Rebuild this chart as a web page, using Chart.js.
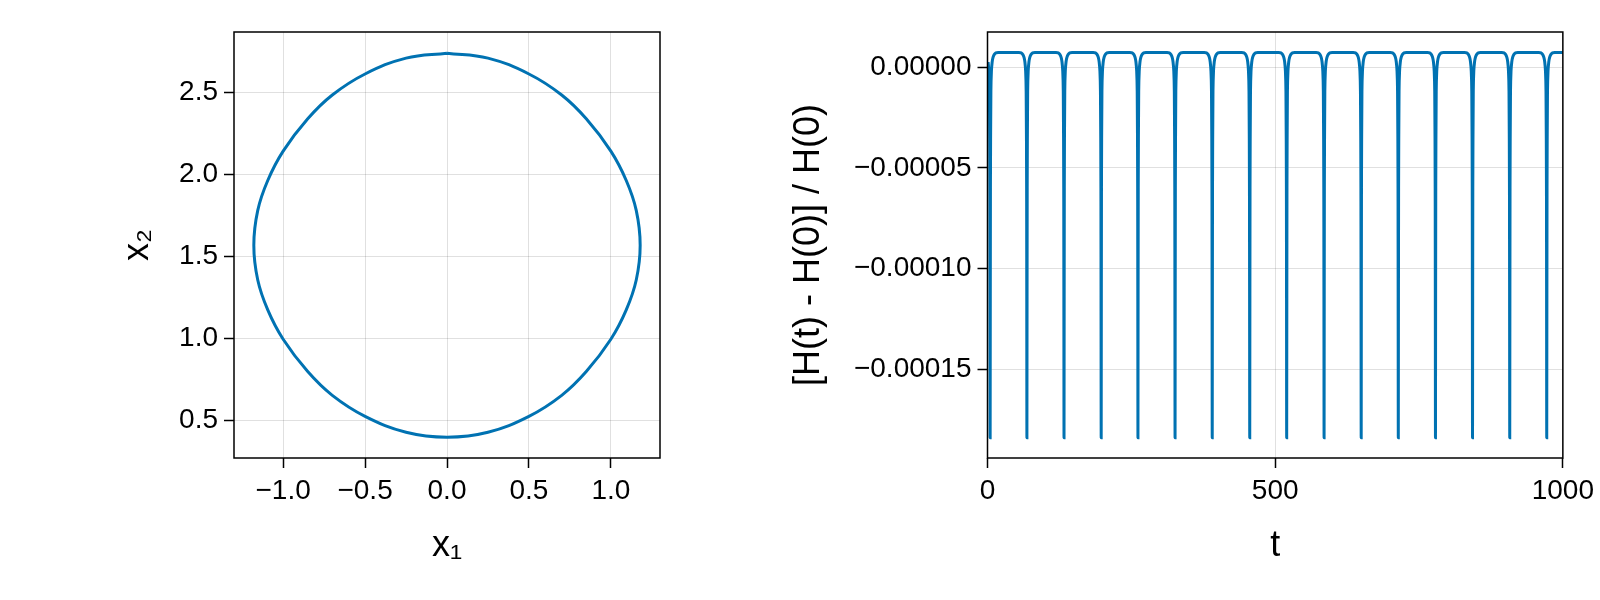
<!doctype html>
<html lang="en">
<head>
  <meta charset="utf-8">
  <title>Phase portrait and energy error</title>
  <script src="https://cdn.jsdelivr.net/npm/chart.js"></script>
  <style>
    body { margin: 0; background: #fff; font-family: "Liberation Sans", Arial, sans-serif; }
    #wrap { position: relative; width: 1600px; height: 600px; }
    .box { position: absolute; top: 0; height: 600px; }
  </style>
</head>
<body>
  <div id="wrap">
    <div class="box" style="left:0;width:700px"><canvas id="phase"></canvas></div>
    <div class="box" style="left:700px;width:900px"><canvas id="energy"></canvas></div>
  </div>

  <script>
    // left panel: orbit in (x1, x2), clockwise from the top
    const orbitX1 = [0, 0.25, 0.5, 0.70, 0.85, 1.0, 1.094, 1.155, 1.179,
                     1.155, 1.094, 1.0, 0.85, 0.70, 0.5, 0.25, 0,
                     -0.25, -0.5, -0.70, -0.85, -1.0, -1.094, -1.155, -1.179,
                     -1.155, -1.094, -1.0, -0.85, -0.70, -0.5, -0.25, 0];
    const orbitX2 = [2.739, 2.709, 2.612, 2.484, 2.339, 2.142, 1.963, 1.781, 1.569,
                     1.357, 1.175, 0.996, 0.799, 0.654, 0.526, 0.429, 0.399,
                     0.429, 0.526, 0.654, 0.799, 0.996, 1.175, 1.357, 1.569,
                     1.781, 1.963, 2.142, 2.339, 2.484, 2.612, 2.709, 2.739];
    const phaseXTicks = [-1.0, -0.5, 0.0, 0.5, 1.0];
    const phaseYTicks = [0.5, 1.0, 1.5, 2.0, 2.5];

    // right panel: relative energy error, one dip per period
    const spikeTimes = [4.6, 68.5, 133, 197.6, 261.5, 326, 390.6, 455.8, 520, 585, 649.5, 714, 778.6, 843, 907.7, 972];
    const dipOffsets = [-14, -10, -7, -5, -3.5, -2.2, -1.3, -0.5, 0, 0.5, 1.3, 2.2, 3.5, 5, 7, 10, 14];
    const dipValues  = [7.2e-6, 7.0e-6, 6.2e-6, 4.8e-6, 2.5e-6, -2e-6, -1.2e-5, -6e-5, -1.84e-4,
                        -6e-5, -1.2e-5, -2e-6, 2.5e-6, 4.8e-6, 6.2e-6, 7.0e-6, 7.2e-6];
    const endValue = 7.2e-6;
    const energyXTicks = [0, 500, 1000];
    const energyYTicks = [0, -0.00005, -0.0001, -0.00015];

    const BLUE = '#0072B2';
    const GRID = 'rgba(0,0,0,0.12)';
    const FAMILY = '"Liberation Sans", Arial, sans-serif';
    const tickFont = { family: FAMILY, size: 28 };
    const minus = s => s.replace('-', '\u2212');

    const frame = {
      id: 'frame',
      afterDraw(chart) {
        const a = chart.chartArea, ctx = chart.ctx;
        const t = chart.options.plugins.frame;
        ctx.save();
        ctx.strokeStyle = '#000';
        ctx.lineWidth = 1.5;
        ctx.strokeRect(a.left, a.top, a.right - a.left, a.bottom - a.top);
        // axis titles
        ctx.fillStyle = '#000';
        ctx.textAlign = 'center';
        ctx.textBaseline = 'middle';
        ctx.font = t.xSize + 'px ' + FAMILY;
        ctx.fillText(t.xTitle, (a.left + a.right) / 2, a.bottom + t.xGap);
        ctx.translate(a.left - t.yGap, (a.top + a.bottom) / 2);
        ctx.rotate(-Math.PI / 2);
        ctx.font = t.ySize + 'px ' + FAMILY;
        ctx.fillText(t.yTitle, 0, 0);
        ctx.restore();
      }
    };

    function axis(opts) {
      return {
        type: 'linear',
        min: opts.min, max: opts.max,
        afterBuildTicks: s => { s.ticks = opts.ticks.map(v => ({ value: v })); },
        afterFit: s => { if (opts.width) s.width = opts.width; if (opts.height) s.height = opts.height; },
        grid: { color: GRID, lineWidth: 1, drawTicks: true, tickLength: 10, tickColor: '#000', tickWidth: 1.5 },
        border: { display: false },
        ticks: { color: '#000', font: tickFont, padding: 6, maxRotation: 0, autoSkip: false, callback: opts.fmt }
      };
    }

    function baseOptions(frameOpts) {
      return {
        responsive: false,
        animation: false,
        plugins: { legend: { display: false }, tooltip: { enabled: false }, frame: frameOpts },
        elements: { point: { radius: 0 } }
      };
    }

    const phaseCanvas = document.getElementById('phase');
    phaseCanvas.width = 700; phaseCanvas.height = 600;
    new Chart(phaseCanvas, {
      type: 'scatter',
      data: {
        datasets: [{
          data: orbitX1.map((x, i) => ({ x: x, y: orbitX2[i] })),
          showLine: true, borderColor: BLUE, borderWidth: 3, tension: 0.4, fill: false
        }]
      },
      options: Object.assign(baseOptions({ xTitle: 'x\u2081', yTitle: 'x\u2082', xGap: 88, yGap: 96, xSize: 36, ySize: 36 }), {
        layout: { padding: { top: 32, right: 40, left: 0, bottom: 0 } },
        scales: {
          x: axis({ min: -1.3, max: 1.3, ticks: phaseXTicks, height: 142, fmt: v => minus(v.toFixed(1)) }),
          y: axis({ min: 0.272, max: 2.868, ticks: phaseYTicks, width: 234, fmt: v => minus(v.toFixed(1)) })
        }
      }),
      plugins: [frame]
    });

    // build the energy curve from the dip profile at each spike time
    const energyPts = [];
    spikeTimes.forEach(t0 => {
      dipOffsets.forEach((d, i) => {
        const t = t0 + d;
        if (t >= 0) energyPts.push({ x: t, y: dipValues[i] });
      });
    });
    energyPts.push({ x: 1000, y: endValue });

    const energyCanvas = document.getElementById('energy');
    energyCanvas.width = 900; energyCanvas.height = 600;
    new Chart(energyCanvas, {
      type: 'scatter',
      data: {
        datasets: [{
          data: energyPts,
          showLine: true, borderColor: BLUE, borderWidth: 3, tension: 0.3, fill: false
        }]
      },
      options: Object.assign(baseOptions({ xTitle: 't', yTitle: '[H(t) - H(0)] / H(0)', xGap: 88, yGap: 178, xSize: 36, ySize: 36 }), {
        layout: { padding: { top: 32, right: 31, left: 0, bottom: 0 } },
        scales: {
          x: axis({ min: 0, max: 1000, ticks: energyXTicks, height: 142, fmt: v => String(v) }),
          y: axis({ min: -0.000194, max: 0.0000174, ticks: energyYTicks, width: 287.5, fmt: v => minus(v.toFixed(5)) })
        }
      }),
      plugins: [frame]
    });
  </script>
</body>
</html>
